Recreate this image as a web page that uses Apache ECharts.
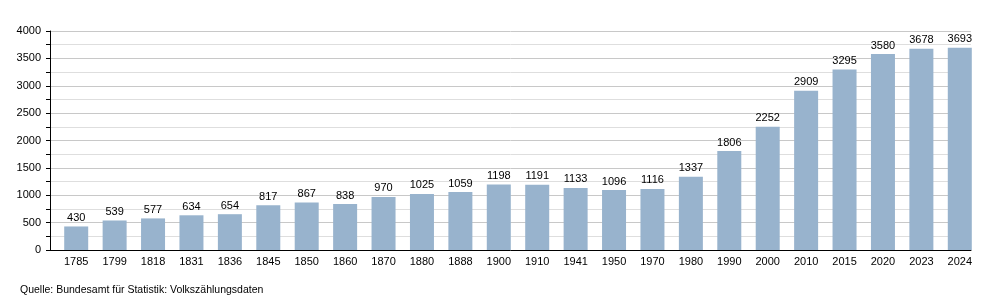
<!DOCTYPE html>
<html><head><meta charset="utf-8">
<script src="https://cdn.jsdelivr.net/npm/echarts@6/dist/echarts.min.js"></script>
<style>html,body{margin:0;padding:0;background:#fff}#c{width:1000px;height:300px}</style>
</head><body><div id="c"></div>
<script>
const categories = ['1785','1799','1818','1831','1836','1845','1850','1860','1870','1880','1888','1900','1910','1941','1950','1970','1980','1990','2000','2010','2015','2020','2023','2024'];
const population = [430,539,577,634,654,817,867,838,970,1025,1059,1198,1191,1133,1096,1116,1337,1806,2252,2909,3295,3580,3678,3693];
const sourceText = 'Quelle: Bundesamt für Statistik: Volkszählungsdaten';
const yMin = 0, yMax = 4000, yStep = 500;

const font = 'Liberation Sans, Arial, sans-serif';
const chart = echarts.init(document.getElementById('c'), null, {renderer: 'canvas'});
chart.setOption({
  animation: false,
  textStyle: {fontFamily: font},
  title: {text: sourceText, left: 20, top: 285, padding: 0, textStyle: {fontSize: 10.5, fontWeight: 'normal', color: '#000', fontFamily: font}},
  grid: [
    {left: 50, right: 29, top: 31, bottom: 50},
    {left: 57, right: 21, top: 31, bottom: 50}
  ],
  xAxis: [
    {gridIndex: 0, type: 'category', data: categories, axisLine: {lineStyle: {color: '#000', width: 1}}, axisTick: {show: false}, axisLabel: {show: false}, splitLine: {show: false}},
    {gridIndex: 1, type: 'category', data: categories, axisLine: {show: false}, axisTick: {show: false},
     axisLabel: {fontSize: 11, color: '#000', margin: 6, interval: 0, fontFamily: font}}
  ],
  yAxis: [
    {gridIndex: 0, type: 'value', min: yMin, max: yMax, interval: yStep,
     axisLine: {show: true, lineStyle: {color: '#000'}},
     axisTick: {show: true, length: 4, lineStyle: {color: '#000'}},
     minorTick: {show: true, splitNumber: 2, length: 4, lineStyle: {color: '#000'}},
     axisLabel: {fontSize: 11, color: '#000', margin: 9, fontFamily: font, formatter: v => String(v)},
     splitLine: {show: true, lineStyle: {color: '#c8c8c8'}},
     minorSplitLine: {show: true, lineStyle: {color: '#dedede'}}},
    {gridIndex: 1, type: 'value', min: yMin, max: yMax, interval: yStep, show: false, splitLine: {show: false}}
  ],
  series: [{
    type: 'bar', xAxisIndex: 1, yAxisIndex: 1, data: population, barWidth: 24,
    itemStyle: {color: '#98b3cd'},
    label: {show: true, position: 'top', distance: 3, fontSize: 11, color: '#000', fontFamily: font}
  }]
});
</script></body></html>
